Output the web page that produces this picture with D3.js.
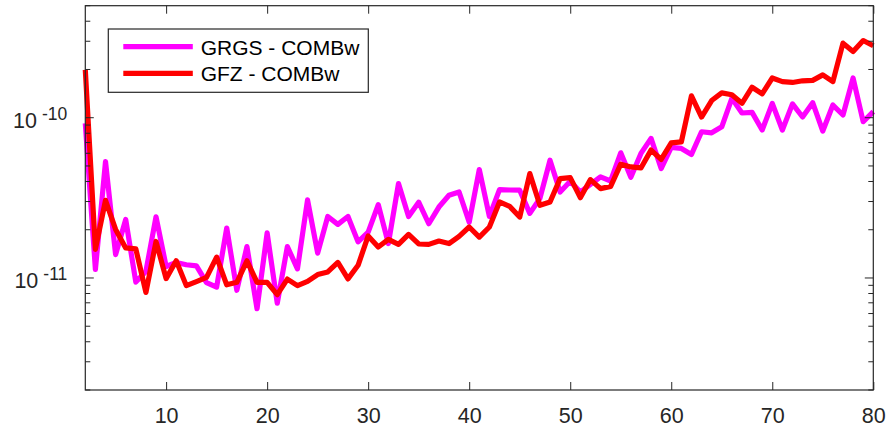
<!DOCTYPE html>
<html>
<head>
<meta charset="utf-8">
<script src="https://cdn.jsdelivr.net/npm/d3@7"></script>
<style>
    body { margin: 0; background: #fff; }
    text { font-family: "Liberation Sans", Arial, sans-serif; }
</style>
</head>
<body>
<svg id="chart"></svg>
<script>
/*global d3*/

// degree n, difference degree variances
var degrees = [2, 3, 4, 5, 6, 7, 8, 9, 10, 11, 12, 13, 14, 15, 16, 17, 18, 19, 20, 21,
    22, 23, 24, 25, 26, 27, 28, 29, 30, 31, 32, 33, 34, 35, 36, 37, 38, 39, 40, 41,
    42, 43, 44, 45, 46, 47, 48, 49, 50, 51, 52, 53, 54, 55, 56, 57, 58, 59, 60, 61,
    62, 63, 64, 65, 66, 67, 68, 69, 70, 71, 72, 73, 74, 75, 76, 77, 78, 79, 80];

var grgsValues = [9.22e-11, 1.13e-11, 5.32e-11, 1.40e-11, 2.32e-11, 9.43e-12, 1.10e-11, 2.41e-11, 1.18e-11, 1.25e-11,
    1.21e-11, 1.19e-11, 9.36e-12, 8.77e-12, 2.05e-11, 8.38e-12, 1.57e-11, 6.43e-12, 1.91e-11, 6.96e-12,
    1.57e-11, 1.14e-11, 3.07e-11, 1.43e-11, 2.42e-11, 2.16e-11, 2.42e-11, 1.68e-11, 1.93e-11, 2.87e-11,
    1.64e-11, 3.88e-11, 2.42e-11, 2.97e-11, 2.18e-11, 2.77e-11, 3.28e-11, 3.44e-11, 2.23e-11, 4.75e-11,
    2.42e-11, 3.56e-11, 3.54e-11, 3.53e-11, 2.53e-11, 3.14e-11, 5.43e-11, 3.44e-11, 4.01e-11, 3.44e-11,
    3.84e-11, 4.27e-11, 4.03e-11, 6.04e-11, 4.25e-11, 5.99e-11, 7.43e-11, 4.82e-11, 6.53e-11, 6.43e-11,
    5.90e-11, 8.17e-11, 8.05e-11, 8.78e-11, 1.32e-10, 1.07e-10, 1.08e-10, 8.38e-11, 1.23e-10, 8.38e-11,
    1.22e-10, 1.01e-10, 1.24e-10, 8.26e-11, 1.20e-10, 1.04e-10, 1.77e-10, 9.44e-11, 1.09e-10];

var gfzValues = [1.99e-10, 1.51e-11, 3.05e-11, 2.01e-11, 1.54e-11, 1.52e-11, 8.13e-12, 1.69e-11, 9.91e-12, 1.28e-11,
    8.96e-12, 9.50e-12, 1.01e-11, 1.35e-11, 9.07e-12, 9.40e-12, 1.28e-11, 9.40e-12, 9.40e-12, 7.87e-12,
    9.84e-12, 8.96e-12, 9.52e-12, 1.05e-11, 1.09e-11, 1.25e-11, 9.87e-12, 1.20e-11, 1.83e-11, 1.56e-11,
    1.74e-11, 1.62e-11, 1.87e-11, 1.63e-11, 1.62e-11, 1.70e-11, 1.64e-11, 1.82e-11, 2.08e-11, 1.80e-11,
    2.08e-11, 2.98e-11, 2.80e-11, 2.40e-11, 4.48e-11, 2.84e-11, 2.98e-11, 4.17e-11, 4.23e-11, 3.17e-11,
    4.11e-11, 3.61e-11, 3.73e-11, 5.13e-11, 4.93e-11, 4.86e-11, 6.28e-11, 5.49e-11, 6.97e-11, 7.07e-11,
    1.37e-10, 1.01e-10, 1.28e-10, 1.43e-10, 1.39e-10, 1.23e-10, 1.55e-10, 1.41e-10, 1.77e-10, 1.68e-10,
    1.66e-10, 1.70e-10, 1.71e-10, 1.85e-10, 1.68e-10, 2.92e-10, 2.59e-10, 3.03e-10, 2.81e-10];

var seriesNames = ["GRGS - COMBw", "GFZ - COMBw"];
var seriesColors = ["#ff00ff", "#ff0000"];
var xDomain = [2, 80];
var xTickValues = [10, 20, 30, 40, 50, 60, 70, 80];
var yDomain = [2e-12, 5e-10];
var yMajorTicks = [1e-11, 1e-10];
var yTickLabels = ["-11", "-10"];

var svgW = 886, svgH = 429;
var margin = {top: 5.7, right: 12.7, bottom: 39, left: 85.3};
var width = svgW - margin.left - margin.right;
var height = svgH - margin.top - margin.bottom;
var axisColor = "#262626";

var svg = d3.select("#chart")
    .attr("width", svgW)
    .attr("height", svgH);

var root = svg.append("g")
    .attr("transform", "translate(" + margin.left + "," + margin.top + ")");

var xScale = d3.scaleLinear().domain(xDomain).range([0, width]);
var yScale = d3.scaleLog().domain(yDomain).range([height, 0]);

// lines
var series = [grgsValues, gfzValues].map(function (vals, i) {
    return {name: seriesNames[i], color: seriesColors[i], points: degrees.map(function (n, j) {
        return [n, vals[j]];
    })};
});

var valueLine = d3.line()
    .x(function (d) { return xScale(d[0]); })
    .y(function (d) { return yScale(d[1]); });

root.selectAll("path.series")
    .data(series)
    .enter()
    .append("path")
    .attr("class", "series")
    .attr("d", function (d) { return valueLine(d.points); })
    .attr("fill", "none")
    .attr("stroke", function (d) { return d.color; })
    .attr("stroke-width", 5.2)
    .attr("stroke-linejoin", "round");

// x axes, ticks pointing inwards
var xBottom = root.append("g")
    .attr("transform", "translate(0," + height + ")")
    .call(d3.axisBottom(xScale).tickValues(xTickValues).tickSizeInner(-8).tickSizeOuter(0).tickPadding(17.5));
var xTop = root.append("g")
    .call(d3.axisTop(xScale).tickValues(xTickValues).tickSizeInner(-8).tickSizeOuter(0).tickFormat(""));

[xBottom, xTop].forEach(function (g) {
    g.select(".domain").remove();
    g.selectAll("line").attr("stroke", axisColor);
    g.selectAll("text")
        .attr("fill", axisColor)
        .style("font-size", "21.5px")
        .style("font-family", "'Liberation Sans', Arial, sans-serif");
});

// y ticks, left and right
var yTicks = yScale.ticks();
function isMajor(v) {
    return yMajorTicks.some(function (m) { return Math.abs(v / m - 1) < 1e-6; });
}
[0, width].forEach(function (x0) {
    var dir = x0 === 0 ? 1 : -1;
    root.selectAll(null)
        .data(yTicks)
        .enter()
        .append("line")
        .attr("x1", x0)
        .attr("x2", function (d) { return x0 + dir * (isMajor(d) ? 8.5 : 5); })
        .attr("y1", function (d) { return yScale(d); })
        .attr("y2", function (d) { return yScale(d); })
        .attr("stroke", axisColor);
});

var yLab = root.selectAll("text.ylab")
    .data(yMajorTicks)
    .enter()
    .append("text")
    .attr("class", "ylab")
    .attr("x", -18)
    .attr("y", function (d) { return yScale(d) + 10; })
    .attr("text-anchor", "end")
    .attr("fill", axisColor)
    .style("font-size", "21.5px");
yLab.append("tspan").text("10");
yLab.append("tspan")
    .attr("dx", 5)
    .attr("dy", -8)
    .style("font-size", "17.5px")
    .text(function (d, i) { return yTickLabels[i]; });

// box
root.append("rect")
    .attr("width", width)
    .attr("height", height)
    .attr("fill", "none")
    .attr("stroke", axisColor)
    .attr("stroke-width", 1.2);

// legend
var legend = svg.append("g").attr("transform", "translate(108.3,29)");
legend.append("rect")
    .attr("width", 260)
    .attr("height", 63.3)
    .attr("fill", "#fff")
    .attr("stroke", axisColor)
    .attr("stroke-width", 1.2);
var item = legend.selectAll("g.item")
    .data(series)
    .enter()
    .append("g")
    .attr("class", "item")
    .attr("transform", function (d, i) { return "translate(0," + (17.7 + i * 26.6) + ")"; });
item.append("line")
    .attr("x1", 15)
    .attr("x2", 84.5)
    .attr("stroke", function (d) { return d.color; })
    .attr("stroke-width", 5.2);
item.append("text")
    .attr("x", 92.4)
    .attr("y", 8)
    .attr("fill", "#000")
    .style("font-size", "21px")
    .text(function (d) { return d.name; });
</script>
</body>
</html>
